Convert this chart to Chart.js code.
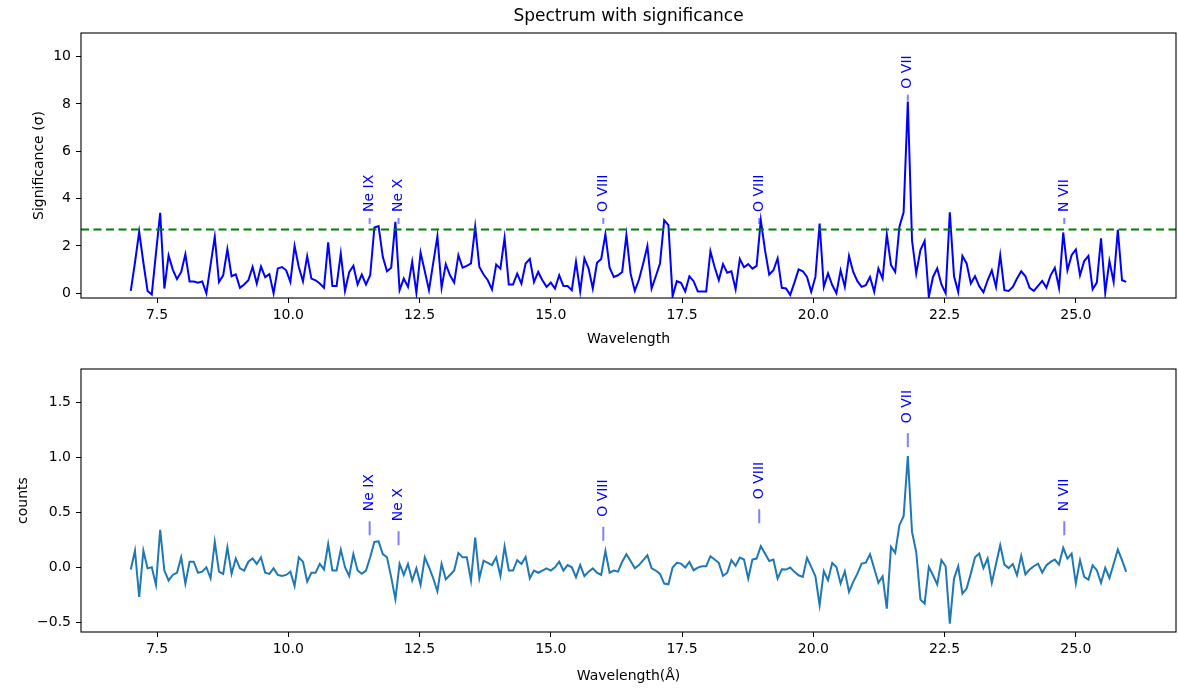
<!DOCTYPE html>
<html>
<head>
<meta charset="utf-8">
<script src="https://cdn.jsdelivr.net/npm/chart.js@4.4.1/dist/chart.umd.min.js"></script>
<style>
  html, body { margin: 0; padding: 0; background: #fff; }
  #wrap { position: relative; width: 1178px; height: 690px; }
  canvas { position: absolute; left: 0; }
</style>
</head>
<body>
<div id="wrap">
  <canvas id="sigChart" width="1178" height="355" style="top:0"></canvas>
  <canvas id="cntChart" width="1178" height="335" style="top:355px"></canvas>
</div>
<script>
// wavelength grid (Angstrom)
var wavelengths = [
  7.00, 7.08, 7.16, 7.24, 7.32, 7.40, 7.48, 7.56, 7.64, 7.72,
  7.80, 7.88, 7.96, 8.04, 8.12, 8.20, 8.28, 8.36, 8.44, 8.52,
  8.60, 8.68, 8.76, 8.84, 8.92, 9.00, 9.08, 9.16, 9.24, 9.32,
  9.40, 9.48, 9.56, 9.64, 9.72, 9.80, 9.88, 9.96, 10.04, 10.12,
  10.20, 10.28, 10.36, 10.44, 10.52, 10.60, 10.68, 10.76, 10.84, 10.92,
  11.00, 11.08, 11.16, 11.24, 11.32, 11.40, 11.48, 11.56, 11.64, 11.72,
  11.80, 11.88, 11.96, 12.04, 12.12, 12.20, 12.28, 12.36, 12.44, 12.52,
  12.60, 12.68, 12.76, 12.84, 12.92, 13.00, 13.08, 13.16, 13.24, 13.32,
  13.40, 13.48, 13.56, 13.64, 13.72, 13.80, 13.88, 13.96, 14.04, 14.12,
  14.20, 14.28, 14.36, 14.44, 14.52, 14.60, 14.68, 14.76, 14.84, 14.92,
  15.00, 15.08, 15.16, 15.24, 15.32, 15.40, 15.48, 15.56, 15.64, 15.72,
  15.80, 15.88, 15.96, 16.04, 16.12, 16.20, 16.28, 16.36, 16.44, 16.52,
  16.60, 16.68, 16.76, 16.84, 16.92, 17.00, 17.08, 17.16, 17.24, 17.32,
  17.40, 17.48, 17.56, 17.64, 17.72, 17.80, 17.88, 17.96, 18.04, 18.12,
  18.20, 18.28, 18.36, 18.44, 18.52, 18.60, 18.68, 18.76, 18.84, 18.92,
  19.00, 19.08, 19.16, 19.24, 19.32, 19.40, 19.48, 19.56, 19.64, 19.72,
  19.80, 19.88, 19.96, 20.04, 20.12, 20.20, 20.28, 20.36, 20.44, 20.52,
  20.60, 20.68, 20.76, 20.84, 20.92, 21.00, 21.08, 21.16, 21.24, 21.32,
  21.40, 21.48, 21.56, 21.64, 21.72, 21.80, 21.88, 21.96, 22.04, 22.12,
  22.20, 22.28, 22.36, 22.44, 22.52, 22.60, 22.68, 22.76, 22.84, 22.92,
  23.00, 23.08, 23.16, 23.24, 23.32, 23.40, 23.48, 23.56, 23.64, 23.72,
  23.80, 23.88, 23.96, 24.04, 24.12, 24.20, 24.28, 24.36, 24.44, 24.52,
  24.60, 24.68, 24.76, 24.84, 24.92, 25.00, 25.08, 25.16, 25.24, 25.32,
  25.40, 25.48, 25.56, 25.64, 25.72, 25.80, 25.88, 25.96
];

// significance (sigma)
var significance = [
  0.10, 1.30, 2.60, 1.30, 0.10, -0.05, 1.70, 3.40, 0.20, 1.60,
  1.00, 0.60, 0.90, 1.65, 0.50, 0.50, 0.45, 0.50, 0.00, 1.20,
  2.39, 0.48, 0.76, 1.86, 0.72, 0.80, 0.23, 0.37, 0.55, 1.11,
  0.41, 1.13, 0.68, 0.81, 0.00, 1.05, 1.11, 0.97, 0.48, 2.00,
  1.11, 0.51, 1.57, 0.62, 0.55, 0.41, 0.23, 2.15, 0.31, 0.31,
  1.68, 0.10, 0.89, 1.16, 0.37, 0.79, 0.37, 0.76, 2.78, 2.84,
  1.54, 0.93, 1.08, 3.02, 0.13, 0.62, 0.27, 1.33, 0.02, 1.72,
  0.93, 0.13, 1.27, 2.41, 0.23, 1.23, 0.76, 0.45, 1.61, 1.08,
  1.16, 1.26, 2.81, 1.11, 0.79, 0.55, 0.16, 1.21, 1.04, 2.34,
  0.37, 0.37, 0.83, 0.41, 1.26, 1.45, 0.48, 0.90, 0.55, 0.27,
  0.45, 0.20, 0.76, 0.31, 0.31, 0.13, 1.33, 0.08, 1.47, 1.04,
  0.20, 1.29, 1.45, 2.49, 1.08, 0.69, 0.76, 0.90, 2.46, 0.83,
  0.10, 0.58, 1.26, 2.00, 0.20, 0.72, 1.26, 3.09, 2.88, -0.13,
  0.51, 0.44, 0.08, 0.72, 0.51, 0.08, 0.08, 0.08, 1.78, 1.11,
  0.55, 1.23, 0.87, 0.93, 0.17, 1.45, 1.10, 1.23, 1.04, 1.16,
  3.09, 1.82, 0.79, 0.97, 1.47, 0.23, 0.20, -0.07, 0.45, 1.01,
  0.93, 0.69, 0.06, 0.69, 2.95, 0.27, 0.84, 0.35, 0.00, 0.97,
  0.27, 1.58, 0.90, 0.51, 0.27, 0.34, 0.69, 0.06, 1.05, 0.62,
  2.49, 1.19, 0.90, 2.81, 3.42, 8.10, 2.24, 0.84, 1.83, 2.21,
  -0.15, 0.69, 1.05, 0.37, 0.00, 3.42, 0.72, 0.06, 1.58, 1.26,
  0.41, 0.72, 0.30, 0.04, 0.55, 0.97, 0.27, 1.61, 0.13, 0.10,
  0.27, 0.62, 0.93, 0.72, 0.23, 0.10, 0.31, 0.52, 0.24, 0.76,
  1.08, 0.23, 2.57, 0.97, 1.61, 1.85, 0.76, 1.36, 1.58, 0.17,
  0.45, 2.32, 0.03, 1.36, 0.48, 2.68, 0.55, 0.48
];

// counts
var counts = [
  -0.02, 0.15, -0.27, 0.15, -0.01, 0.00, -0.16, 0.34, -0.03, -0.12,
  -0.07, -0.05, 0.09, -0.15, 0.05, 0.05, -0.05, -0.04, 0.00, -0.10,
  0.23, -0.04, -0.06, 0.18, -0.06, 0.08, -0.01, -0.03, 0.05, 0.08,
  0.03, 0.09, -0.05, -0.06, -0.01, -0.07, -0.08, -0.07, -0.04, -0.17,
  0.09, 0.05, -0.13, -0.05, -0.05, 0.03, -0.02, 0.21, -0.03, -0.03,
  0.16, 0.00, -0.08, 0.12, -0.03, -0.06, -0.03, 0.09, 0.23, 0.235,
  0.12, 0.09, -0.09, -0.29, 0.03, -0.07, 0.03, -0.12, -0.01, -0.16,
  0.09, 0.00, -0.10, -0.22, 0.03, -0.11, -0.07, -0.03, 0.13, 0.09,
  0.09, -0.12, 0.27, -0.10, 0.06, 0.04, 0.02, 0.09, -0.08, 0.19,
  -0.03, -0.03, 0.064, 0.03, 0.094, -0.10, -0.03, -0.05, -0.03, -0.01,
  -0.03, 0.00, 0.05, -0.03, 0.02, 0.00, -0.09, 0.02, -0.08, -0.04,
  -0.01, -0.05, -0.07, 0.148, -0.05, -0.03, -0.04, 0.05, 0.118, 0.057,
  -0.01, 0.02, 0.064, 0.109, -0.01, -0.03, -0.06, -0.148, -0.155, -0.003,
  0.04, 0.033, -0.003, 0.048, -0.027, -0.003, 0.009, 0.009, 0.10, 0.07,
  0.04, -0.078, -0.05, 0.064, 0.012, 0.088, 0.07, -0.103, 0.07, 0.079,
  0.191, 0.124, 0.057, 0.07, -0.103, -0.018, -0.021, -0.003, -0.042, -0.073,
  -0.088, 0.085, 0.003, -0.082, -0.345, -0.036, -0.118, 0.039, 0.003, -0.148,
  -0.036, -0.224, -0.133, -0.058, 0.033, 0.042, 0.118, -0.012, -0.142, -0.082,
  -0.376, 0.185, 0.13, 0.382, 0.464, 1.009, 0.321, 0.139, -0.294, -0.33,
  0.003, -0.073, -0.155, 0.064, 0.009, -0.512, -0.103, 0.009, -0.239, -0.194,
  -0.058, 0.09, 0.124, -0.008, 0.079, -0.142, 0.03, 0.20, 0.024, -0.008,
  0.03, -0.073, 0.103, -0.064, -0.021, 0.009, 0.033, -0.048, 0.018, 0.048,
  0.07, 0.024, 0.176, 0.079, 0.124, -0.148, 0.064, -0.088, -0.112, 0.018,
  -0.027, -0.142, -0.006, -0.097, 0.03, 0.161, 0.064, -0.042
];

var threshold = 2.7;

// emission lines
var lineNames = ['Ne IX', 'Ne X', 'O VIII', 'O VIII', 'O VII', 'N VII'];
var lineWaves = [11.55, 12.10, 16.00, 18.97, 21.80, 24.78];
var sigMarkY = [2.93, 2.93, 2.93, 2.93, 8.14, 2.93];
var cntMarkY = [0.29, 0.20, 0.24, 0.40, 1.09, 0.29];

var sigTicks = [0, 2, 4, 6, 8, 10];
var cntTicks = [-0.5, 0, 0.5, 1.0, 1.5];
var waveTicks = [7.5, 10, 12.5, 15, 17.5, 20, 22.5, 25];

var FONT = '"DejaVu Sans", sans-serif';
var AREA_LEFT = 81, AREA_RIGHT = 1176;

var span = wavelengths[wavelengths.length - 1] - wavelengths[0];
var xMin = wavelengths[0] - 0.05 * span;
var xMax = wavelengths[wavelengths.length - 1] + 0.05 * span;

function fmtMinus(v, d) {
  var s = Math.abs(v).toFixed(d);
  return v < 0 ? '\u2212' + s : s;
}

var frame = {
  id: 'frame',
  afterDraw: function (chart, args, opts) {
    var ctx = chart.ctx, a = chart.chartArea;
    ctx.save();
    ctx.strokeStyle = '#000';
    ctx.lineWidth = 1.1;
    ctx.strokeRect(a.left, a.top, a.right - a.left, a.bottom - a.top);

    // titles
    ctx.fillStyle = '#000';
    ctx.textAlign = 'center';
    ctx.textBaseline = 'middle';
    var cx = (a.left + a.right) / 2;
    if (opts.title) {
      ctx.font = '17px ' + FONT;
      ctx.fillText(opts.title, cx, a.top - 16);
    }
    ctx.font = '14px ' + FONT;
    ctx.fillText(opts.xlabel, cx, a.bottom + opts.xlabelOffset);

    // y label left of the widest tick label
    var ys = chart.scales.y, w = 0;
    ys.ticks.forEach(function (t) {
      w = Math.max(w, ctx.measureText(opts.tickFmt(t.value)).width);
    });
    var lx = a.left - 10 - w - 6 - 8;
    ctx.translate(lx, (a.top + a.bottom) / 2);
    ctx.rotate(-Math.PI / 2);
    ctx.fillText(opts.ylabel, 0, 0);
    ctx.restore();
  }
};

var lineLabels = {
  id: 'lineLabels',
  afterDatasetsDraw: function (chart, args, opts) {
    var ctx = chart.ctx, xs = chart.scales.x, ys = chart.scales.y;
    ctx.save();
    lineNames.forEach(function (name, i) {
      var px = xs.getPixelForValue(lineWaves[i]);
      var py = ys.getPixelForValue(opts.markY[i]);
      ctx.strokeStyle = 'rgba(0,0,255,0.5)';
      ctx.lineWidth = 2;
      ctx.beginPath();
      ctx.moveTo(px, py);
      ctx.lineTo(px, py - opts.markLen);
      ctx.stroke();
      ctx.save();
      ctx.translate(px, py - opts.markLen - opts.gap);
      ctx.rotate(-Math.PI / 2);
      ctx.fillStyle = '#0000ff';
      ctx.font = '14px ' + FONT;
      ctx.textAlign = 'left';
      ctx.textBaseline = 'middle';
      ctx.fillText(name, 0, 0);
      ctx.restore();
    });
    ctx.restore();
  }
};

function axes(yMin, yMax, yTicks, yFmt, xHeight) {
  var tickFont = { family: FONT, size: 14 };
  return {
    x: {
      type: 'linear', min: xMin, max: xMax,
      afterBuildTicks: function (s) { s.ticks = waveTicks.map(function (v) { return { value: v }; }); },
      afterFit: function (s) { s.height = xHeight; },
      ticks: { color: '#000', font: tickFont, padding: 4, maxRotation: 0, autoSkip: false,
               callback: function (v) { return v.toFixed(1); } },
      grid: { drawOnChartArea: false, drawTicks: true, tickLength: 5, color: '#000' },
      border: { display: false }
    },
    y: {
      min: yMin, max: yMax,
      afterBuildTicks: function (s) { s.ticks = yTicks.map(function (v) { return { value: v }; }); },
      afterFit: function (s) { s.width = AREA_LEFT; },
      ticks: { color: '#000', font: tickFont, padding: 5, callback: yFmt },
      grid: { drawOnChartArea: false, drawTicks: true, tickLength: 5, color: '#000' },
      border: { display: false }
    }
  };
}

function pts(ys) {
  return wavelengths.map(function (w, i) { return { x: w, y: ys[i] }; });
}

var sigFmt = function (v) { return String(v); };
var cntFmt = function (v) { return fmtMinus(v, 1); };

new Chart(document.getElementById('sigChart'), {
  type: 'line',
  data: {
    datasets: [{
      label: 'threshold',
      data: [{ x: xMin, y: threshold }, { x: xMax, y: threshold }],
      borderColor: '#008000', borderWidth: 2, borderDash: [8, 4.5],
      pointRadius: 0, fill: false
    }, {
      label: 'significance',
      data: pts(significance),
      borderColor: '#0000ff', borderWidth: 2,
      pointRadius: 0, tension: 0, fill: false
    }]
  },
  options: {
    responsive: false, animation: false, devicePixelRatio: 1,
    layout: { padding: { top: 33, right: 1178 - AREA_RIGHT, left: 0, bottom: 0 } },
    scales: axes(-0.2, 11, sigTicks, sigFmt, 355 - 298),
    plugins: {
      legend: { display: false }, tooltip: { enabled: false },
      frame: { title: 'Spectrum with significance', xlabel: 'Wavelength', ylabel: 'Significance (\u03c3)',
               xlabelOffset: 41, tickFmt: sigFmt },
      lineLabels: { markY: sigMarkY, markLen: 6, gap: 6 }
    }
  },
  plugins: [frame, lineLabels]
});

new Chart(document.getElementById('cntChart'), {
  type: 'line',
  data: {
    datasets: [{
      label: 'counts',
      data: pts(counts),
      borderColor: '#1f77b4', borderWidth: 2,
      pointRadius: 0, tension: 0, fill: false
    }]
  },
  options: {
    responsive: false, animation: false, devicePixelRatio: 1,
    layout: { padding: { top: 369 - 355, right: 1178 - AREA_RIGHT, left: 0, bottom: 0 } },
    scales: axes(-0.588, 1.8, cntTicks, cntFmt, 335 - 277),
    plugins: {
      legend: { display: false }, tooltip: { enabled: false },
      frame: { xlabel: 'Wavelength(\u00c5)', ylabel: 'counts', xlabelOffset: 44, tickFmt: cntFmt },
      lineLabels: { markY: cntMarkY, markLen: 14, gap: 10 }
    }
  },
  plugins: [frame, lineLabels]
});
</script>
</body>
</html>
